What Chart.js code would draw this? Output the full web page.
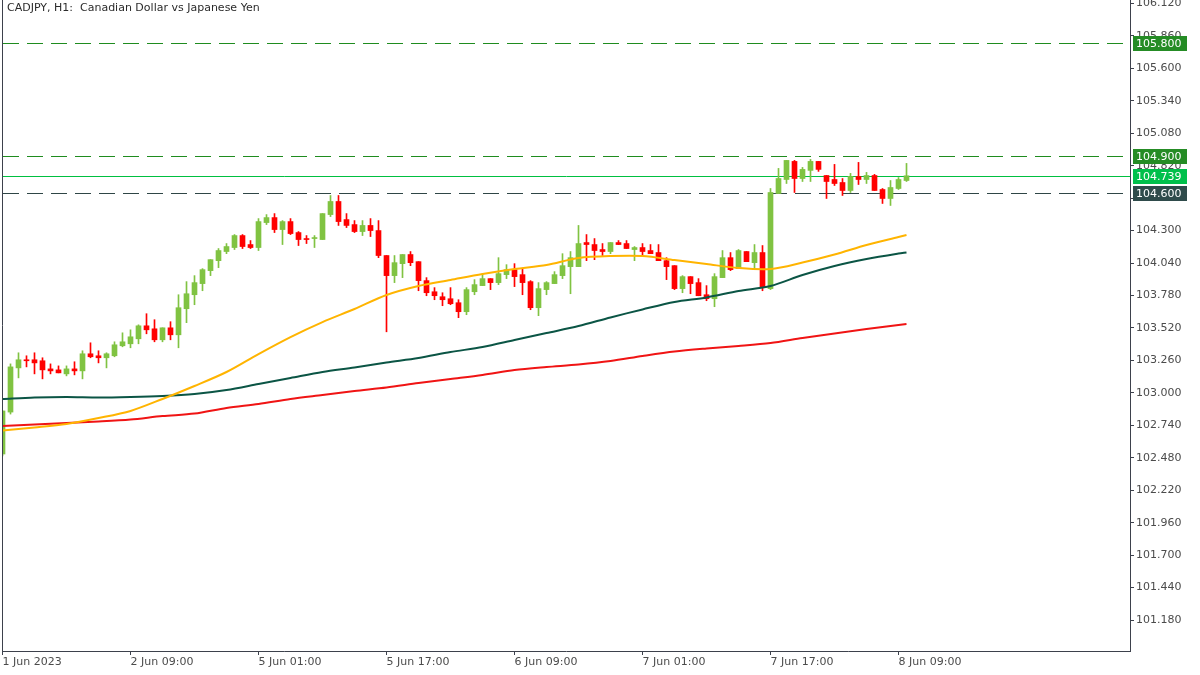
<!DOCTYPE html>
<html>
<head>
<meta charset="utf-8">
<script src="https://cdn.jsdelivr.net/npm/chart.js@4.4.0/dist/chart.umd.min.js"></script>
<style>
  html, body { margin: 0; padding: 0; background: #ffffff; }
  #wrap { width: 1200px; height: 675px; }
</style>
</head>
<body>
<div id="wrap"><canvas id="chart" width="1200" height="675"></canvas></div>
<script>
const bullColor = "#80c342";
const bearColor = "#ff0000";
const axisColor = "#3d414c";
const textColor = "#4b4b4b";
const fontFamily = '"DejaVu Sans", sans-serif';

const titleText = "CADJPY, H1:  Canadian Dollar vs Japanese Yen";

// H1 candles, one per hour, first bar 1 Jun 17:00
const opens = [
  102.510, 102.846, 103.200, 103.265, 103.265, 103.257, 103.192, 103.184, 103.152, 103.192,
  103.176, 103.313, 103.297, 103.281, 103.297, 103.377, 103.393, 103.433, 103.537, 103.513,
  103.425, 103.521, 103.465, 103.674, 103.786, 103.875, 103.979, 104.059, 104.132, 104.164,
  104.260, 104.188, 104.164, 104.364, 104.404, 104.308, 104.372, 104.284, 104.236, 104.236,
  104.228, 104.428, 104.533, 104.388, 104.348, 104.292, 104.341, 104.300, 104.100, 103.939,
  104.035, 104.108, 104.051, 103.899, 103.810, 103.770, 103.754, 103.722, 103.650, 103.810,
  103.859, 103.915, 103.883, 103.947, 103.987, 103.947, 103.891, 103.682, 103.827, 103.875,
  103.939, 104.011, 104.011, 104.204, 104.188, 104.148, 104.132, 104.204, 104.196, 104.148,
  104.164, 104.140, 104.124, 104.059, 104.019, 103.835, 103.931, 103.883, 103.786, 103.754,
  103.923, 104.083, 103.995, 104.132, 104.043, 104.124, 103.835, 104.597, 104.709, 104.854,
  104.717, 104.782, 104.854, 104.741, 104.709, 104.685, 104.621, 104.733, 104.709, 104.741,
  104.629, 104.557, 104.637, 104.701
];
const highs = [
  102.855, 103.232, 103.321, 103.297, 103.321, 103.281, 103.232, 103.216, 103.216, 103.249,
  103.337, 103.401, 103.337, 103.321, 103.409, 103.481, 103.505, 103.545, 103.634, 103.586,
  103.521, 103.570, 103.786, 103.891, 103.939, 103.995, 104.067, 104.156, 104.196, 104.268,
  104.268, 104.220, 104.396, 104.428, 104.436, 104.380, 104.396, 104.292, 104.260, 104.260,
  104.436, 104.581, 104.581, 104.436, 104.380, 104.380, 104.396, 104.380, 104.100, 104.100,
  104.108, 104.132, 104.051, 103.923, 103.843, 103.802, 103.843, 103.746, 103.843, 103.907,
  103.955, 103.915, 104.083, 104.027, 104.035, 103.995, 103.899, 103.883, 103.891, 103.971,
  104.115, 104.132, 104.341, 104.268, 104.236, 104.196, 104.204, 104.220, 104.220, 104.172,
  104.196, 104.188, 104.188, 104.083, 104.019, 103.939, 103.931, 103.915, 103.859, 103.955,
  104.140, 104.124, 104.148, 104.132, 104.188, 104.180, 104.637, 104.798, 104.862, 104.862,
  104.806, 104.870, 104.854, 104.741, 104.830, 104.717, 104.758, 104.846, 104.766, 104.750,
  104.637, 104.701, 104.725, 104.838
];
const lows = [
  102.494, 102.830, 103.120, 103.208, 103.152, 103.112, 103.152, 103.160, 103.136, 103.144,
  103.112, 103.281, 103.240, 103.200, 103.289, 103.369, 103.361, 103.393, 103.473, 103.409,
  103.409, 103.425, 103.361, 103.562, 103.706, 103.818, 103.939, 104.003, 104.115, 104.148,
  104.156, 104.156, 104.140, 104.348, 104.284, 104.188, 104.268, 104.180, 104.196, 104.164,
  104.228, 104.412, 104.341, 104.324, 104.284, 104.260, 104.252, 104.083, 103.489, 103.883,
  103.923, 104.019, 103.818, 103.778, 103.746, 103.698, 103.706, 103.602, 103.626, 103.786,
  103.859, 103.827, 103.867, 103.915, 103.851, 103.786, 103.666, 103.618, 103.786, 103.875,
  103.915, 103.794, 104.011, 104.059, 104.067, 104.100, 104.115, 104.188, 104.156, 104.059,
  104.100, 104.115, 104.059, 103.907, 103.827, 103.802, 103.794, 103.778, 103.738, 103.690,
  103.923, 103.979, 103.995, 104.051, 103.987, 103.818, 103.827, 104.597, 104.677, 104.605,
  104.693, 104.693, 104.774, 104.557, 104.661, 104.581, 104.605, 104.669, 104.677, 104.621,
  104.517, 104.501, 104.629, 104.693
];
const closes = [
  102.855, 103.208, 103.265, 103.257, 103.240, 103.184, 103.176, 103.160, 103.192, 103.176,
  103.313, 103.289, 103.281, 103.313, 103.385, 103.409, 103.449, 103.537, 103.505, 103.425,
  103.521, 103.465, 103.682, 103.794, 103.883, 103.987, 104.067, 104.140, 104.172, 104.260,
  104.172, 104.164, 104.372, 104.404, 104.308, 104.372, 104.276, 104.228, 104.228, 104.244,
  104.436, 104.533, 104.372, 104.341, 104.292, 104.341, 104.300, 104.100, 103.939, 104.043,
  104.108, 104.043, 103.899, 103.802, 103.778, 103.746, 103.714, 103.650, 103.827, 103.867,
  103.915, 103.883, 103.955, 103.987, 103.931, 103.883, 103.682, 103.835, 103.883, 103.947,
  104.019, 104.083, 104.196, 104.188, 104.140, 104.132, 104.204, 104.188, 104.156, 104.164,
  104.132, 104.115, 104.059, 104.011, 103.835, 103.931, 103.875, 103.778, 103.754, 103.931,
  104.083, 103.987, 104.140, 104.051, 104.124, 103.843, 104.605, 104.717, 104.862, 104.717,
  104.790, 104.854, 104.790, 104.693, 104.677, 104.621, 104.733, 104.709, 104.741, 104.621,
  104.557, 104.645, 104.709, 104.739
];

// moving averages at these bars
const maBars = [0, 4, 8, 12, 16, 20, 24, 28, 32, 36, 40, 44, 48, 52, 56, 60, 64, 68, 72, 76,
  80, 84, 88, 92, 96, 100, 104, 108, 112, 113];
const maOrange = [102.698, 102.722, 102.750, 102.798, 102.855, 102.951, 103.055, 103.167, 103.311, 103.447,
  103.567, 103.672, 103.784, 103.856, 103.904, 103.952, 103.992, 104.024, 104.080, 104.096,
  104.096, 104.064, 104.032, 104.000, 103.992, 104.044, 104.108, 104.184, 104.248, 104.264];
const maDarkGreen = [102.951, 102.963, 102.967, 102.963, 102.967, 102.975, 102.991, 103.023, 103.071, 103.119,
  103.167, 103.203, 103.243, 103.279, 103.327, 103.367, 103.423, 103.479, 103.535, 103.604,
  103.668, 103.728, 103.764, 103.816, 103.856, 103.944, 104.016, 104.072, 104.116, 104.124];
const maRed = [102.734, 102.746, 102.758, 102.770, 102.786, 102.814, 102.834, 102.879, 102.911, 102.951,
  102.983, 103.015, 103.043, 103.079, 103.111, 103.143, 103.183, 103.207, 103.227, 103.255,
  103.295, 103.331, 103.355, 103.375, 103.399, 103.439, 103.475, 103.511, 103.543, 103.551];

const yTicks = [101.180, 101.440, 101.700, 101.960, 102.220, 102.480, 102.740, 103.000, 103.260, 103.520,
  103.780, 104.040, 104.300, 104.560, 104.820, 105.080, 105.340, 105.600, 105.860, 106.120];
const xTickBars = [0, 16, 32, 48, 64, 80, 96, 112];
const xTickLabels = ["1 Jun 2023", "2 Jun 09:00", "5 Jun 01:00", "5 Jun 17:00", "6 Jun 09:00", "7 Jun 01:00", "7 Jun 17:00", "8 Jun 09:00"];

const levelPrices = [105.800, 104.900, 104.739, 104.600];
const levelStyles = [
  { line: "#1f8c1f", box: "#258c25", dash: [16, 8] },
  { line: "#1f8c1f", box: "#258c25", dash: [16, 8] },
  { line: "#00c040", box: "#00c04b", dash: [] },
  { line: "#2f4646", box: "#2f4b4b", dash: [16, 8] },
];

const yMin = 100.932;
const yMax = 106.147;
const xMin = -0.0625;
const xMax = 140.9375;

window.addEventListener("DOMContentLoaded", function() {
  const candleColors = opens.map((o, i) => closes[i] >= o ? bullColor : bearColor);
  const wickData = opens.map((o, i) => ({ x: i, y: [lows[i], highs[i]] }));
  const bodyData = opens.map((o, i) => ({ x: i, y: [o, closes[i]] }));

  const maLine = (values, color) => ({
    type: "line",
    data: maBars.map((b, i) => ({ x: b, y: values[i] })),
    borderColor: color,
    borderWidth: 2,
    pointRadius: 0,
    tension: 0.3,
    fill: false,
    order: 1,
  });

  const noPadding = function(scale) {
    scale.paddingTop = 0;
    scale.paddingBottom = 0;
    scale.paddingLeft = 0;
    scale.paddingRight = 0;
  };

  // price levels sit under the candles, snapped to whole pixels
  const levelPlugin = {
    id: "levels",
    beforeDatasetsDraw(chart) {
      const { ctx, chartArea } = chart;
      const yScale = chart.scales.y;
      ctx.save();
      ctx.lineWidth = 1;
      levelPrices.forEach((p, i) => {
        const y = Math.round(yScale.getPixelForValue(p)) + 0.5;
        ctx.strokeStyle = levelStyles[i].line;
        ctx.setLineDash(levelStyles[i].dash);
        ctx.beginPath();
        ctx.moveTo(chartArea.left + 1, y);
        ctx.lineTo(chartArea.right, y);
        ctx.stroke();
      });
      ctx.restore();
    }
  };

  const overlayPlugin = {
    id: "overlay",
    afterDraw(chart) {
      const { ctx, chartArea } = chart;
      const yScale = chart.scales.y;
      ctx.save();
      ctx.strokeStyle = axisColor;
      ctx.lineWidth = 1;
      ctx.beginPath();
      ctx.moveTo(chartArea.left + 0.5, 0);
      ctx.lineTo(chartArea.left + 0.5, chartArea.bottom);
      ctx.stroke();

      ctx.font = "11px " + fontFamily;
      ctx.fillStyle = "#2b2b2b";
      ctx.textBaseline = "top";
      ctx.textAlign = "left";
      ctx.fillText(titleText, 7, 3);

      levelPrices.forEach((p, i) => {
        const y = Math.round(yScale.getPixelForValue(p));
        ctx.fillStyle = levelStyles[i].box;
        ctx.fillRect(chartArea.right + 3, y - 7, 54, 15);
        ctx.fillStyle = "#ffffff";
        ctx.textBaseline = "middle";
        ctx.fillText(p.toFixed(3), chartArea.right + 6, y + 1);
      });
      ctx.restore();
    }
  };

  new Chart(document.getElementById("chart").getContext("2d"), {
    type: "bar",
    data: {
      datasets: [
        maLine(maOrange, "#ffb400"),
        maLine(maDarkGreen, "#0b5545"),
        maLine(maRed, "#f01414"),
        {
          type: "bar",
          data: wickData,
          backgroundColor: candleColors,
          barThickness: 1,
          grouped: false,
          order: 5,
        },
        {
          type: "bar",
          data: bodyData,
          backgroundColor: candleColors,
          barThickness: 5,
          minBarLength: 1,
          grouped: false,
          order: 4,
        },
      ],
    },
    options: {
      responsive: false,
      devicePixelRatio: 1,
      animation: false,
      events: [],
      layout: { padding: { left: 2, top: 0, right: 0, bottom: 0 } },
      plugins: {
        legend: { display: false },
        tooltip: { enabled: false },
      },
      scales: {
        x: {
          type: "linear",
          position: "bottom",
          min: xMin,
          max: xMax,
          offset: false,
          grid: { offset: false, drawOnChartArea: false, drawTicks: true, tickLength: 4, tickColor: axisColor },
          border: { display: true, color: axisColor, width: 1 },
          ticks: {
            autoSkip: false,
            maxRotation: 0,
            align: "start",
            padding: 1,
            color: textColor,
            font: { family: fontFamily, size: 11 },
            callback: function(value) {
              const i = xTickBars.indexOf(value);
              return i >= 0 ? xTickLabels[i] : "";
            },
          },
          afterBuildTicks: function(scale) {
            scale.ticks = xTickBars.map(v => ({ value: v }));
          },
          afterFit: function(scale) {
            scale.height = 24;
            noPadding(scale);
          },
        },
        y: {
          type: "linear",
          position: "right",
          min: yMin,
          max: yMax,
          beginAtZero: false,
          grid: { drawOnChartArea: false, drawTicks: true, tickLength: 4, tickColor: axisColor },
          border: { display: true, color: axisColor, width: 1 },
          ticks: {
            autoSkip: false,
            padding: 2,
            color: textColor,
            font: { family: fontFamily, size: 11 },
            callback: function(value) { return value.toFixed(3); },
          },
          afterBuildTicks: function(scale) {
            scale.ticks = yTicks.map(v => ({ value: v }));
          },
          afterFit: function(scale) {
            scale.width = 70;
            noPadding(scale);
          },
        },
      },
    },
    plugins: [levelPlugin, overlayPlugin],
  });
});
</script>
</body>
</html>
